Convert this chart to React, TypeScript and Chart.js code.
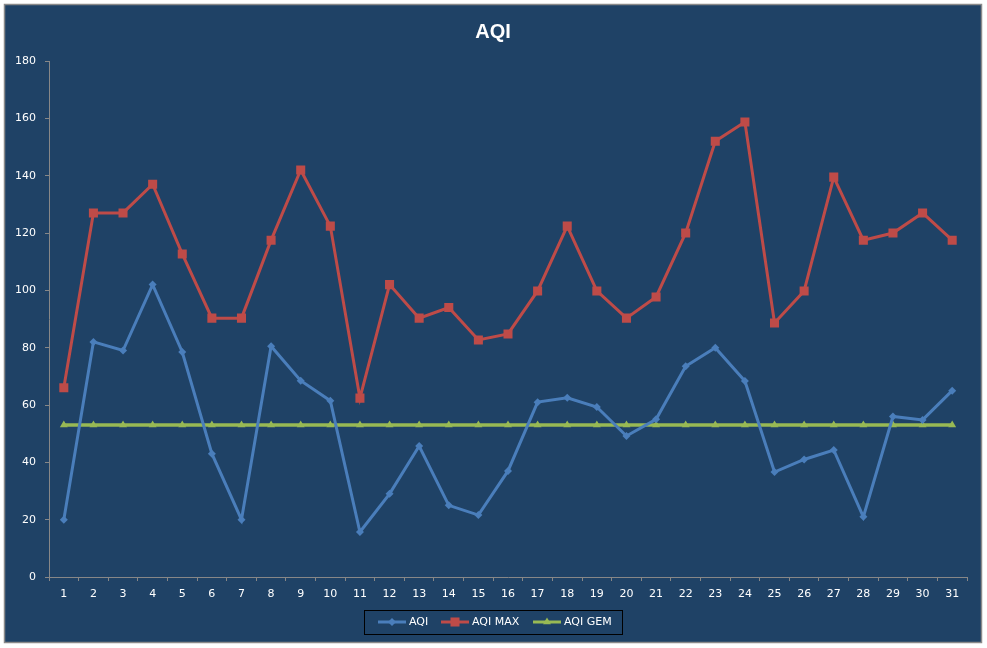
import React, { useEffect, useRef } from "react";
import { Chart, registerables } from "chart.js";

Chart.register(...registerables);

const days: string[] = [
  "1", "2", "3", "4", "5", "6", "7", "8", "9", "10", "11", "12", "13", "14", "15", "16",
  "17", "18", "19", "20", "21", "22", "23", "24", "25", "26", "27", "28", "29", "30", "31",
];

const aqi: number[] = [
  20, 82, 79, 102, 78.5, 43, 20, 80.5, 68.5, 61.5, 15.7, 29, 45.7, 25, 21.6, 37,
  61, 62.5, 59.3, 49.2, 55, 73.5, 80, 68.4, 36.6, 41, 44.3, 21, 56, 54.8, 65,
];

const aqiMax: number[] = [
  66, 127, 127, 137, 112.7, 90.3, 90.3, 117.5, 142, 122.4, 62.4, 102, 90.3, 94, 82.7, 84.8,
  99.8, 122.4, 99.8, 90.3, 97.7, 120, 152, 158.7, 88.6, 99.8, 139.5, 117.5, 120, 127, 117.5,
];

const aqiGem: number[] = days.map(() => 53);

const yTicks = { min: 0, max: 180, step: 20 };

const BG = "#1F4266";
const BLUE = "#4A7EBB";
const RED = "#BE4B48";
const GREEN = "#98B954";
const AXIS = "#878787";
const TEXT = "#FFFFFF";

export default function App() {
  const ref = useRef<HTMLCanvasElement | null>(null);

  useEffect(() => {
    document.body.style.margin = "0";
    const canvas = ref.current;
    if (!canvas) return;

    const framePlugin = {
      id: "frame",
      beforeDraw(chart: any) {
        const ctx = chart.ctx;
        ctx.save();
        ctx.fillStyle = BG;
        ctx.fillRect(5, 5, 976, 637);
        ctx.strokeStyle = "#8A8A8A";
        ctx.lineWidth = 1.5;
        ctx.strokeRect(4.5, 4.5, 977, 638);
        ctx.restore();
      },
      afterDraw(chart: any) {
        const ctx = chart.ctx;
        ctx.save();
        // title
        ctx.fillStyle = TEXT;
        ctx.font = "bold 20px 'Liberation Sans', Arial, sans-serif";
        ctx.textAlign = "center";
        ctx.textBaseline = "middle";
        ctx.fillText("AQI", 493, 32);

        // legend box
        ctx.strokeStyle = "#000000";
        ctx.lineWidth = 1;
        ctx.strokeRect(364.5, 610.5, 258, 24);

        const items = [
          { label: "AQI", color: BLUE, style: "rectRot", r: 4, x: 378 },
          { label: "AQI MAX", color: RED, style: "rect", r: 6.4, x: 441 },
          { label: "AQI GEM", color: GREEN, style: "triangle", r: 4.6, x: 533 },
        ];
        const ly = 622;
        ctx.font = "11px 'DejaVu Sans', sans-serif";
        ctx.textAlign = "left";
        ctx.textBaseline = "middle";
        for (const it of items) {
          ctx.strokeStyle = it.color;
          ctx.lineWidth = 3;
          ctx.beginPath();
          ctx.moveTo(it.x, ly);
          ctx.lineTo(it.x + 28, ly);
          ctx.stroke();
          ctx.fillStyle = it.color;
          (Chart as any).helpers?.drawPoint;
          drawMarker(ctx, it.style, it.x + 14, ly, it.r, it.color);
          ctx.fillStyle = TEXT;
          ctx.fillText(it.label, it.x + 31, ly + 0.5);
        }
        ctx.restore();
      },
    };

    function drawMarker(ctx: CanvasRenderingContext2D, style: string, x: number, y: number, r: number, color: string) {
      ctx.save();
      ctx.fillStyle = color;
      ctx.beginPath();
      if (style === "rect") {
        const s = Math.SQRT1_2 * r;
        ctx.rect(x - s, y - s, 2 * s, 2 * s);
      } else if (style === "rectRot") {
        ctx.moveTo(x, y - r);
        ctx.lineTo(x + r, y);
        ctx.lineTo(x, y + r);
        ctx.lineTo(x - r, y);
        ctx.closePath();
      } else {
        const a = (Math.PI * 2) / 3;
        ctx.moveTo(x + Math.sin(0) * r, y - Math.cos(0) * r);
        ctx.lineTo(x + Math.sin(a) * r, y - Math.cos(a) * r);
        ctx.lineTo(x + Math.sin(2 * a) * r, y - Math.cos(2 * a) * r);
        ctx.closePath();
      }
      ctx.fill();
      ctx.restore();
    }

    const chart = new Chart(canvas, {
      type: "line",
      data: {
        labels: days,
        datasets: [
          {
            label: "AQI GEM",
            data: aqiGem,
            borderColor: GREEN,
            backgroundColor: GREEN,
            borderWidth: 3.5,
            pointStyle: "triangle",
            pointRadius: 4.6,
            pointBorderWidth: 0,
            tension: 0,
            order: 3,
          },
          {
            label: "AQI MAX",
            data: aqiMax,
            borderColor: RED,
            backgroundColor: RED,
            borderWidth: 3,
            pointStyle: "rect",
            pointRadius: 6.4,
            pointBorderWidth: 0,
            tension: 0,
            order: 2,
          },
          {
            label: "AQI",
            data: aqi,
            borderColor: BLUE,
            backgroundColor: BLUE,
            borderWidth: 3,
            pointStyle: "rectRot",
            pointRadius: 4,
            pointBorderWidth: 0,
            tension: 0,
            order: 1,
          },
        ],
      },
      options: {
        animation: false,
        responsive: false,
        devicePixelRatio: 1,
        layout: { padding: { left: 0, right: 20, top: 61, bottom: 41 } },
        plugins: {
          legend: { display: false },
          title: { display: false },
          tooltip: { enabled: false },
        },
        scales: {
          x: {
            type: "category",
            offset: true,
            grid: {
              offset: true,
              drawOnChartArea: false,
              drawTicks: true,
              tickLength: 4,
              color: AXIS,
            },
            border: { display: true, color: AXIS, width: 1 },
            ticks: {
              color: TEXT,
              padding: 7,
              maxRotation: 0,
              autoSkip: false,
              font: { family: "'DejaVu Sans', sans-serif", size: 11 },
            },
            afterFit(scale: any) {
              scale.height = 30;
            },
          },
          y: {
            min: yTicks.min,
            max: yTicks.max,
            grid: {
              drawOnChartArea: false,
              drawTicks: true,
              tickLength: 4,
              color: AXIS,
            },
            border: { display: true, color: AXIS, width: 1 },
            ticks: {
              stepSize: yTicks.step,
              color: TEXT,
              padding: 9,
              font: { family: "'DejaVu Sans', sans-serif", size: 11 },
            },
            afterFit(scale: any) {
              scale.width = 49;
            },
          },
        },
      },
      plugins: [framePlugin],
    } as any);

    return () => {
      chart.destroy();
    };
  }, []);

  return (
    <div style={{ width: 987, height: 648, position: "relative", background: "#FFFFFF" }}>
      <canvas ref={ref} width={987} height={648} style={{ display: "block", width: 987, height: 648 }} />
    </div>
  );
}
